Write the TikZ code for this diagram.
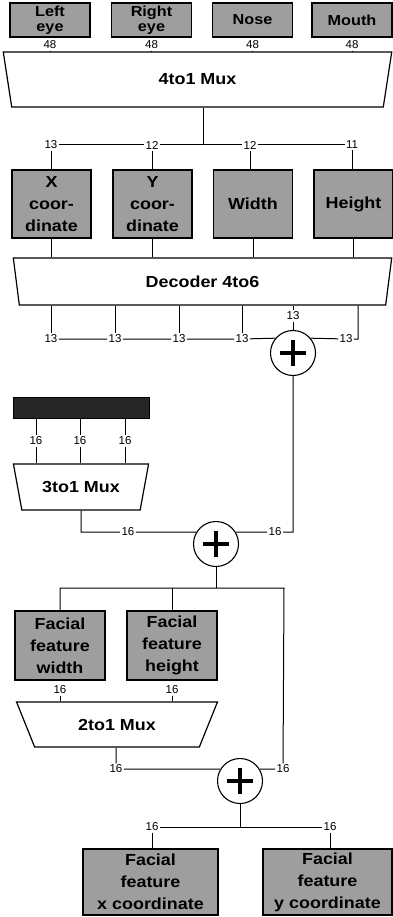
\documentclass[tikz,border=0pt]{standalone}
\usepackage{fontspec}
\setmainfont{Liberation Sans}
\newfontfamily\blockfont[FakeStretch=1.12]{Liberation Sans}
\usetikzlibrary{shapes,calc}
\definecolor{blockgray}{gray}{0.62}
\definecolor{selgray}{gray}{0.15}
\tikzset{
  blk/.style={draw,rectangle,fill=blockgray,line width=1.2pt,inner sep=0pt,align=center,
    font=\blockfont\bfseries\fontsize{16}{22}\selectfont},
  topblk/.style={blk,minimum width=80,minimum height=34,font=\blockfont\bfseries\fontsize{14.5}{15}\selectfont},
  midblk/.style={blk,minimum width=79,minimum height=68},
  mux/.style={draw,trapezium,shape border rotate=180,trapezium stretches=true,line width=1.2pt,
    inner sep=0pt,font=\blockfont\bfseries\fontsize{16}{16}\selectfont},
  wid/.style={inner sep=1pt,font=\fontsize{11.5}{11.5}\selectfont},
  adder/.style={draw,circle,line width=1.1pt,minimum size=45,inner sep=0pt,
    path picture={
      \fill ($(path picture bounding box.center)+(-13pt,-2.2pt)$) rectangle ++(26pt,4.4pt);
      \fill ($(path picture bounding box.center)+(-2.2pt,-13pt)$) rectangle ++(4.4pt,26pt);}}
}
\begin{document}
\begin{tikzpicture}[x=1pt,y=-1pt,line width=1pt]
\useasboundingbox (0,0) rectangle (392,917);

\node[topblk] (leye) at (50,20) {Left\\eye};
\node[topblk] (reye) at (151.5,20) {Right\\eye};
\node[topblk] (nose) at (252.5,20) {Nose};
\node[topblk] (mouth) at (352,20) {Mouth};
\node[wid] (w1) at (50,45) {48};
\node[wid] (w2) at (151.5,45) {48};
\node[wid] (w3) at (252.5,45) {48};
\node[wid] (w4) at (352,45) {48};
\node[mux,minimum width=389,minimum height=55,trapezium left angle=81,trapezium right angle=81] (mux4) at (197.5,79.5) {4to1 Mux};
\foreach \n in {w1,w2,w3,w4} \draw (\n) -- (\n |- mux4.north);

\coordinate (j1) at (203,145);
\node[wid] (c13) at (51,145) {13};
\node[wid] (c12a) at (152,145) {12};
\node[wid] (c12b) at (250,145) {12};
\node[wid] (c11) at (352,145) {11};
\node[midblk] (xc) at (51.5,204) {X\\coor-\\dinate};
\node[midblk] (yc) at (152.5,204) {Y\\coor-\\dinate};
\node[midblk] (wd) at (253,204) {Width};
\node[midblk] (ht) at (353.5,204) {Height};
\draw (mux4.south -| j1) -- (j1);
\draw (c13) -- (c12a) -- (c12b) -- (c11);
\foreach \a/\b in {c13/xc,c12a/yc,c12b/wd,c11/ht} \draw (\a) -- (\a |- \b.north);

\node[mux,minimum width=379,minimum height=47,trapezium left angle=81,trapezium right angle=81] (dec) at (202.5,281.5) {Decoder 4to6};
\foreach \b in {xc,yc,wd,ht} \draw (\b) -- (\b |- dec.north);

\node[wid] (d1) at (51,339) {13};
\node[wid] (d2) at (115,339) {13};
\node[wid] (d3) at (179,339) {13};
\node[wid] (d4) at (242,339) {13};
\node[wid] (d5) at (293,316) {13};
\node[wid] (d6) at (346,339) {13};
\coordinate (k6) at (358,339);
\node[adder] (add1) at (293,353) {};
\foreach \n in {d1,d2,d3,d4,d5} \draw (\n |- dec.south) -- (\n);
\draw (d1) -- (d2) -- (d3) -- (d4) -- (add1.140);
\draw (d5) -- (add1);
\draw (k6 |- dec.south) -- (k6) -- (d6) -- (add1.40);

\node[draw,fill=selgray,minimum width=136,minimum height=21,inner sep=0pt] (sel) at (81,407.5) {};
\node[wid] (s1) at (36,441) {16};
\node[wid] (s2) at (80,441) {16};
\node[wid] (s3) at (125,441) {16};
\node[mux,minimum width=136,minimum height=46,trapezium left angle=64,trapezium right angle=64] (mux3) at (81,487) {3to1 Mux};
\foreach \n in {s1,s2,s3} \draw (\n |- sel.south) -- (\n) -- (\n |- mux3.north);

\node[adder] (add2) at (216,544) {};
\coordinate (k7) at (293,532);
\node[wid] (e1) at (275,532) {16};
\coordinate (k8) at (81,532);
\node[wid] (e2) at (128,532) {16};
\draw (add1) -- (k7) -- (e1) -- (add2.31);
\draw (mux3.south) -- (k8) -- (e2) -- (add2.149);

\coordinate (k9) at (59,588);
\coordinate (k10) at (284,588);
\node[blk,minimum width=90,minimum height=69] (ffw) at (60,645.5) {Facial\\feature\\width};
\node[blk,minimum width=90,minimum height=69] (ffh) at (172,645.5) {Facial\\feature\\height};
\node[wid] (e3) at (283,769) {16};
\draw (add2) -- (add2 |- k9);
\draw (ffw.north) -- (ffw.north |- k9) -- (k10) -- (e3);
\draw (ffh.north) -- (ffh.north |- k9);

\node[wid] (f1) at (60,690) {16};
\node[wid] (f2) at (172,690) {16};
\node[mux,minimum width=202,minimum height=45,trapezium left angle=53,trapezium right angle=53] (mux2) at (117,724.5) {2to1 Mux};
\foreach \n in {f1,f2} \draw (\n) -- (\n |- mux2.north);

\node[wid] (g1) at (116,769) {16};
\node[adder] (add3) at (240,781) {};
\draw (mux2.south -| g1) -- (g1) -- (add3.149);
\draw (e3) -- (add3.31);

\coordinate (j3) at (240,827);
\node[wid] (h1) at (152,827) {16};
\node[wid] (h2) at (330,827) {16};
\node[blk,minimum width=135,minimum height=66] (ffx) at (150.5,882) {Facial\\feature\\x coordinate};
\node[blk,minimum width=129,minimum height=66] (ffy) at (327.5,882) {Facial\\feature\\y coordinate};
\draw (add3) -- (j3);
\draw (h1) -- (h2);
\draw (h1) -- (h1 |- ffx.north);
\draw (h2) -- (h2 |- ffy.north);
\end{tikzpicture}
\end{document}
